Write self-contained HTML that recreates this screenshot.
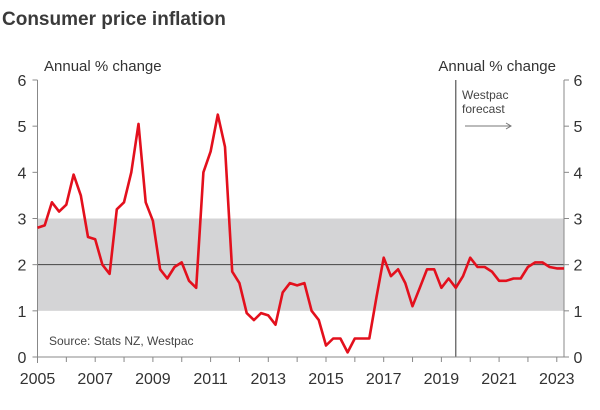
<!DOCTYPE html>
<html><head><meta charset="utf-8"><style>
body{margin:0;background:#fff;}
svg{display:block;font-family:"Liberation Sans",sans-serif;}
</style></head><body>
<svg id="chart" width="600" height="410" viewBox="0 0 600 410">
<text x="2" y="25" font-size="19" font-weight="bold" fill="#3a3a3a">Consumer price inflation</text>
<text x="44" y="71" font-size="15" fill="#333">Annual % change</text>
<text x="556" y="71" font-size="15" fill="#333" text-anchor="end">Annual % change</text>
<g id="plot"></g>
<text x="462" y="99" font-size="12" fill="#444">Westpac</text>
<text x="462" y="113" font-size="12" fill="#444">forecast</text>
<g><line x1="465" y1="126" x2="511" y2="126" stroke="#777" stroke-width="1"/><path d="M506 123 L511 126 L506 129" fill="none" stroke="#777" stroke-width="1"/></g>
<text x="49" y="345" font-size="12" fill="#444">Source: Stats NZ, Westpac</text>
</svg>
<script>
const values=[2.8,2.85,3.35,3.15,3.3,3.95,3.5,2.6,2.55,2.0,1.8,3.2,3.35,4.0,5.05,3.35,2.95,1.9,1.7,1.95,2.05,1.65,1.5,4.0,4.45,5.25,4.55,1.85,1.6,0.95,0.8,0.95,0.9,0.7,1.4,1.6,1.55,1.6,1.0,0.8,0.25,0.4,0.4,0.1,0.4,0.4,0.4,1.3,2.15,1.75,1.9,1.6,1.1,1.5,1.9,1.9,1.5,1.7,1.5,1.75,2.15,1.95,1.95,1.85,1.65,1.65,1.7,1.7,1.95,2.05,2.05,1.95,1.92,1.92];
const startYear=2005;
const yTicks=[0,1,2,3,4,5,6];
const xTickLabels=[2005,2007,2009,2011,2013,2015,2017,2019,2021,2023];
const band=[1,3];
const forecastStart=2019.5;
const X0=37.5,X1=564,Y0=357,Y1=80,YMIN=2005,YMAX=2023.25;
const xs=t=>X0+(t-YMIN)/(YMAX-YMIN)*(X1-X0);
const ys=v=>Y0-(v/6)*(Y0-Y1);
const NS='http://www.w3.org/2000/svg';
const g=document.getElementById('plot');
function mk(tag,a){const e=document.createElementNS(NS,tag);for(const k in a)e.setAttribute(k,a[k]);g.appendChild(e);return e;}
const b=mk('rect',{x:X0,y:ys(band[1]),width:X1-X0,height:ys(band[0])-ys(band[1]),fill:'#d4d4d6'});


const m=mk('line',{x1:X0,x2:X1,y1:ys(2),y2:ys(2),stroke:'#444','stroke-width':1});


const f=mk('line',{x1:xs(forecastStart),x2:xs(forecastStart),y1:Y1,y2:Y0,stroke:'#333','stroke-width':1});


const la=mk('line',{x1:X0,x2:X0,y1:Y1,y2:Y0+6,stroke:'#888','stroke-width':1});


const ra=mk('line',{x1:X1,x2:X1,y1:Y1,y2:Y0,stroke:'#888','stroke-width':1});


const xa=mk('line',{x1:X0,x2:X1,y1:Y0,y2:Y0,stroke:'#888','stroke-width':1});


yTicks.forEach(v=>{
 mk('line',{x1:X0-5,x2:X0,y1:ys(v),y2:ys(v),stroke:'#888'});
 mk('line',{x1:X1,x2:X1+5,y1:ys(v),y2:ys(v),stroke:'#888'});
 const l=mk('text',{x:22,y:ys(v)+6,'font-size':16,fill:'#333','text-anchor':'middle'});l.textContent=v;
 
 
 const r=mk('text',{x:578,y:ys(v)+6,'font-size':16,fill:'#333','text-anchor':'middle'});r.textContent=v;
 
 
});
for(let y=2005;y<=2023;y++){mk('line',{x1:xs(y),x2:xs(y),y1:Y0,y2:Y0+5,stroke:'#888'});}
xTickLabels.forEach(y=>{const t=mk('text',{x:xs(y),y:384,'font-size':16,fill:'#333','text-anchor':'middle'});t.textContent=y;
 
 });
const pts=values.map((v,i)=>xs(startYear+i/4).toFixed(1)+','+ys(v).toFixed(1)).join(' ');
const line=mk('polyline',{points:pts,fill:'none',stroke:'#e3101d','stroke-width':2.6,'stroke-linejoin':'round'});


</script>
</body></html>
